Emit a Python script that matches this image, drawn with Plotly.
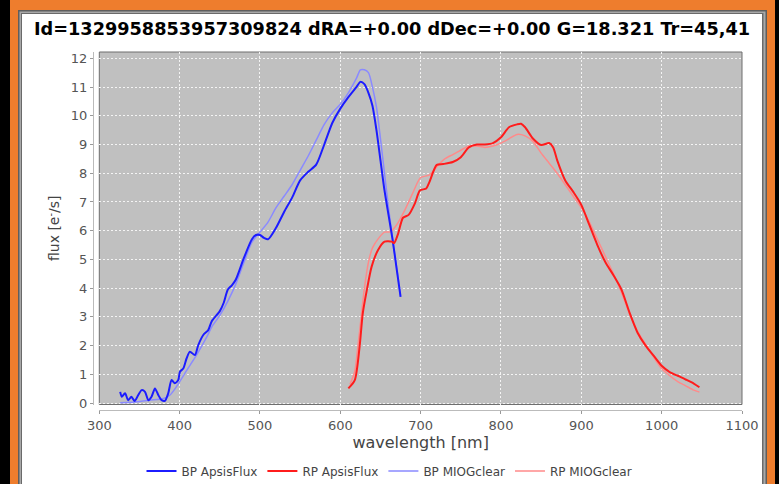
import plotly.graph_objects as go

# ---------------- data ----------------
bp_apsis_wl = [326, 328, 332, 336, 340, 344, 348.5, 352.7, 356.9, 361, 365, 369.3, 373.4, 377.6,
               381.7, 385.8, 390, 394, 398.3, 400.4, 404.5, 408.7, 412.8, 419, 423.2, 429.4, 435.6,
               440, 450, 455, 460, 465, 470, 480, 490, 495, 500, 505, 510, 520, 530, 540, 550,
               560, 570, 580, 590, 600, 610, 620, 625, 630, 635, 640, 645, 650, 655, 660, 665,
               670, 675]
bp_apsis = [0.39, 0.22, 0.34, 0.10, 0.22, 0.07, 0.28, 0.45, 0.39, 0.10, 0.22, 0.51, 0.28, 0.10,
            0.08, 0.34, 0.80, 0.69, 0.80, 1.09, 1.20, 1.56, 1.79, 1.67, 2.02, 2.37, 2.54,
            2.85, 3.20, 3.50, 3.95, 4.10, 4.30, 5.05, 5.70, 5.85, 5.85, 5.75, 5.70, 6.10, 6.65, 7.15, 7.75,
            8.05, 8.30, 9.00, 9.75, 10.25, 10.65, 11.00, 11.18, 11.10, 10.80, 10.35, 9.50, 8.45, 7.40, 6.55, 5.70,
            4.70, 3.70]

bp_miog_wl = [326, 345, 363, 380, 388, 396, 409, 421, 434, 440, 450, 460, 470, 480, 490, 500, 510,
              520, 530, 540, 550, 560, 570, 580, 590, 600, 610, 620, 625, 630, 635, 640, 645, 650,
              655, 660, 665, 670, 675]
bp_miog = [0.01, 0.04, 0.10, 0.16, 0.28, 0.57, 1.15, 1.67, 2.31, 2.65, 3.05, 3.55, 4.15, 4.90, 5.60,
           5.95, 6.30, 6.80, 7.20, 7.60, 8.10, 8.60, 9.15, 9.70, 10.10, 10.40, 10.80, 11.30, 11.60,
           11.60, 11.50, 11.00, 10.30, 9.20, 8.00, 6.80, 5.75, 4.75, 3.75]

rp_apsis_wl = [610, 618, 624, 628, 633, 639, 647, 655, 664, 667, 672, 678, 685, 693, 699, 707, 711,
               720, 728, 740, 750, 760, 770, 780, 790, 800, 810, 820, 825, 830, 840, 850, 860, 865,
               870, 880, 890, 900, 910, 920, 930, 940, 950, 960, 970, 980, 990, 1000, 1010, 1020,
               1030, 1040, 1047]
rp_apsis = [0.51, 0.80, 1.96, 3.13, 3.93, 4.75, 5.33, 5.62, 5.62, 5.57, 5.90, 6.45, 6.55, 6.96, 7.40,
            7.47, 7.70, 8.29, 8.32, 8.39, 8.56, 8.90, 9.00, 9.00, 9.05, 9.25, 9.60, 9.70, 9.72, 9.60,
            9.20, 8.98, 9.05, 8.90, 8.45, 7.75, 7.35, 6.90, 6.20, 5.50, 4.90, 4.45, 3.95, 3.15,
            2.45, 2.00, 1.65, 1.30, 1.08, 0.95, 0.82, 0.68, 0.55]

rp_miog_wl = [612, 618, 622, 626, 630, 635, 640, 648, 655, 662, 670, 680, 690, 700, 711, 724, 730,
              740, 750, 760, 770, 780, 790, 800, 810, 820, 830, 840, 850, 860, 870, 880, 890, 900,
              910, 920, 930, 940, 950, 960, 970, 980, 990, 1000, 1010, 1020, 1030, 1040, 1047]
rp_miog = [0.65, 1.10, 2.00, 3.00, 4.00, 4.90, 5.40, 5.75, 5.95, 5.96, 6.20, 6.70, 7.30, 7.85, 7.94,
           8.35, 8.50, 8.65, 8.80, 8.95, 8.95, 8.90, 8.95, 9.05, 9.20, 9.35, 9.30, 9.10, 8.70, 8.35,
           8.00, 7.60, 7.20, 6.80, 6.30, 5.70, 5.10, 4.50, 3.85, 3.10, 2.50, 2.05, 1.60, 1.20, 0.95,
           0.75, 0.60, 0.45, 0.38]

series_names = ["BP ApsisFlux", "RP ApsisFlux", "BP MIOGclear", "RP MIOGclear"]
x_ticks = [300, 400, 500, 600, 700, 800, 900, 1000, 1100]
y_ticks = list(range(0, 13))
title_text = "Id=1329958853957309824 dRA=+0.00 dDec=+0.00 G=18.321 Tr=45,41"

# ---------------- figure ----------------
W, H = 779, 484
L, R, T, B = 93, 37, 52, 74
PW, PH = W - L - R, H - T - B


def px(xp):
    return (xp - L) / PW


def py(yp):
    return (H - B - yp) / PH


FONT = "DejaVu Sans"
fig = go.Figure()

line_specs = {
    series_names[0]: dict(color="#1c1cff", width=2),
    series_names[1]: dict(color="#ff1c1c", width=2),
    series_names[2]: dict(color="#8a8aff", width=1.5),
    series_names[3]: dict(color="#ff8a8a", width=1.5),
}
xy = {
    series_names[0]: (bp_apsis_wl, bp_apsis),
    series_names[1]: (rp_apsis_wl, rp_apsis),
    series_names[2]: (bp_miog_wl, bp_miog),
    series_names[3]: (rp_miog_wl, rp_miog),
}
# light curves first so the dark ones lie on top
for nm in [series_names[2], series_names[3], series_names[0], series_names[1]]:
    xs, ys = xy[nm]
    fig.add_trace(go.Scatter(x=xs, y=ys, name=nm, mode="lines",
                             legendrank=series_names.index(nm) + 1,
                             line=dict(shape="spline", smoothing=0.7, **line_specs[nm])))

shapes = [
    dict(type="rect", xref="paper", yref="paper", x0=px(10), x1=px(775), y0=py(0), y1=py(490),
         fillcolor="#ee7d2d", line_width=0, layer="below"),
    dict(type="rect", xref="paper", yref="paper", x0=px(18), x1=px(767), y0=py(10), y1=py(490),
         fillcolor="#5e5e5e", line_width=0, layer="below"),
    dict(type="rect", xref="paper", yref="paper", x0=px(19.5), x1=px(765.5), y0=py(11.5), y1=py(490),
         fillcolor="#a8a8a8", line_width=0, layer="below"),
    dict(type="rect", xref="paper", yref="paper", x0=px(21), x1=px(763.5), y0=py(13), y1=py(490),
         fillcolor="#6a6a6a", line_width=0, layer="below"),
    dict(type="rect", xref="paper", yref="paper", x0=px(22), x1=px(762), y0=py(14), y1=py(490),
         fillcolor="white", line_width=0, layer="below"),
    dict(type="rect", xref="x domain", yref="y domain", x0=0, x1=1, y0=0, y1=1,
         fillcolor="#c0c0c0", line=dict(color="#6e6e6e", width=1), layer="below"),
]

xdom0 = (99.3 - L) / PW
ydom0 = (H - B - 404.5) / PH

fig.update_layout(
    template="none",
    width=W, height=H,
    margin=dict(l=L, r=R, t=T, b=B, pad=0, autoexpand=False),
    paper_bgcolor="black",
    plot_bgcolor="rgba(0,0,0,0)",
    shapes=shapes,
    title=dict(text="<b>" + title_text + "</b>", x=392 / W, xanchor="center",
               y=1 - 29 / H, yanchor="middle", yref="container",
               font=dict(family=FONT, size=17.7, color="black")),
    font=dict(family=FONT, color="#444444"),
    showlegend=True,
    hovermode=False,
    legend=dict(orientation="h", x=0.5, xanchor="center", xref="container",
                y=1 - 471 / H, yanchor="middle", yref="container",
                font=dict(family=FONT, size=12, color="#444444"),
                bgcolor="rgba(0,0,0,0)", itemwidth=30, traceorder="normal",
                tracegroupgap=0),
    xaxis=dict(domain=[xdom0, 1], range=[300, 1100], anchor="free", position=0,
               automargin=False,
               tickvals=x_ticks, ticks="outside", ticklen=3, tickcolor="#999999",
               showline=True, linecolor="#bbbbbb", linewidth=1,
               showgrid=True, gridcolor="#f4f4f4", gridwidth=1, griddash="2px,2px",
               zeroline=False, tickfont=dict(family=FONT, size=13, color="#555555"),
               title=dict(text="wavelength [nm]", font=dict(family=FONT, size=16, color="#444444"),
                          standoff=2)),
    yaxis=dict(domain=[ydom0, 1], range=[-0.05, 12.22], anchor="free", position=0,
               automargin=False,
               tickvals=y_ticks, ticks="outside", ticklen=3, tickcolor="#999999",
               showline=True, linecolor="#bbbbbb", linewidth=1,
               showgrid=True, gridcolor="#f4f4f4", gridwidth=1, griddash="2px,2px",
               zeroline=False, tickfont=dict(family=FONT, size=13, color="#555555"),
               title=dict(text="flux [e<sup>-</sup>/s]", font=dict(family=FONT, size=14, color="#444444"),
                          standoff=6)),
)

fig.write_html(
    "out.html",
    config={"displayModeBar": False},
    post_script="document.body.style.margin='0';document.body.style.padding='0';"
                "document.body.style.background='black';document.body.style.overflow='hidden';",
)
